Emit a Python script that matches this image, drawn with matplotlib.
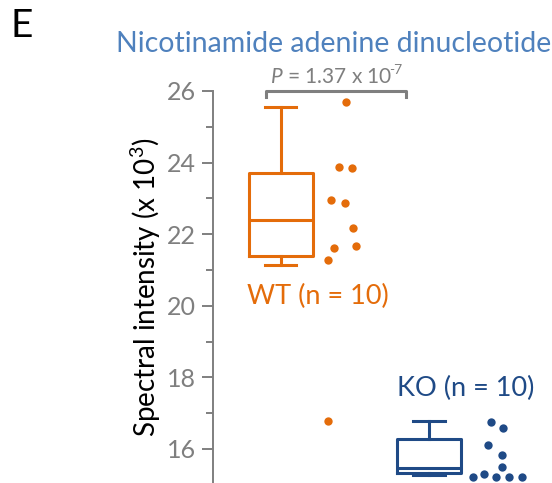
import numpy as np
import matplotlib.pyplot as plt

plt.rcParams['font.family'] = ['Lato', 'DejaVu Sans']
plt.rcParams['mathtext.fontset'] = 'custom'
plt.rcParams['mathtext.rm'] = 'Lato'
plt.rcParams['mathtext.it'] = 'Lato:italic'

groups = ['WT', 'KO']
group_labels = ['WT (n = 10)', 'KO (n = 10)']

# box summaries (x 10^3)
whislo = [21.14, 15.26]
q1 = [21.39, 15.34]
med = [22.40, 15.48]
q3 = [23.70, 16.28]
whishi = [25.56, 16.78]

# individual samples (x 10^3)
wt_values = [25.70, 23.87, 23.84, 22.96, 22.88, 22.18, 21.61, 21.67, 21.28, 16.78]
ko_values = [16.75, 16.59, 16.10, 15.84, 15.51, 15.23, 15.30, 15.23, 15.23, 15.23]

# horizontal spread of the dots next to each box
wt_spread = [0.44, 0.39, 0.48, 0.34, 0.43, 0.49, 0.36, 0.51, 0.32, 0.32]
ko_spread = [0.42, 0.50, 0.40, 0.49, 0.49, 0.30, 0.37, 0.45, 0.54, 0.63]

y_ticks = [16, 18, 20, 22, 24, 26]
p_text = r'$\it{P}$ = 1.37 x 10'
p_exp = '-7'

orange = '#E46C0A'
navy = '#1F4A86'
grey = '#7F7F7F'

fig = plt.figure(figsize=(5.52, 4.83), dpi=100)
ax = fig.add_axes([213 / 552, 0, 339 / 552, 392 / 483])

stats = []
for i in range(2):
    stats.append(dict(whislo=whislo[i], q1=q1[i], med=med[i], q3=q3[i],
                      whishi=whishi[i], fliers=[]))

colors = [orange, navy]
for i in range(2):
    c = colors[i]
    ax.bxp([stats[i]], positions=[i], widths=0.432, capwidths=0.21,
           showfliers=False,
           boxprops=dict(color=c, lw=2.2),
           medianprops=dict(color=c, lw=2.2),
           whiskerprops=dict(color=c, lw=2.2),
           capprops=dict(color=c, lw=2.2))

ax.scatter(np.array(wt_spread), wt_values, s=36, color=orange, lw=0, zorder=3)
ax.scatter(1 + np.array(ko_spread), ko_values, s=36, color=navy, lw=0, zorder=3)

ax.set_xlim(-0.459, 1.831)
ax.set_ylim(15.05, 26)
ax.set_yticks(y_ticks)
ax.set_yticks(np.arange(17, 26, 2), minor=True)
ax.tick_params(axis='y', which='major', length=8, width=1.4, color=grey,
               labelcolor=grey, labelsize=18, pad=4)
ax.tick_params(axis='y', which='minor', length=5, width=1.4, color=grey)
ax.set_xticks([])
for s in ['top', 'right', 'bottom']:
    ax.spines[s].set_visible(False)
ax.spines['left'].set_color(grey)
ax.spines['left'].set_linewidth(1.4)
ax.patch.set_alpha(0)

ax.set_ylabel('Spectral intensity (x 10$^3$)', fontsize=20, color='black')
ax.yaxis.set_label_coords(-0.148, 0.5)

# significance bracket
ax.plot([-0.101, -0.101, 0.845, 0.845], [25.82, 26.0, 26.0, 25.82],
        color=grey, lw=2.2, clip_on=False, solid_joinstyle='round')
pt = ax.text(0.341, 26.22, p_text, ha='center', va='baseline', fontsize=15,
             color=grey, clip_on=False)
ax.annotate(p_exp, xy=(1, 0.55), xycoords=pt, xytext=(-2.5, 0),
            textcoords='offset points', ha='left', va='bottom',
            fontsize=10, color=grey, annotation_clip=False)

ax.text(0.25, 20.25, group_labels[0], ha='center', va='center',
        fontsize=19.5, color=orange)
ax.text(1.25, 17.70, group_labels[1], ha='center', va='center',
        fontsize=19.5, color=navy)

fig.text(334 / 552, 1 - 52 / 483, 'Nicotinamide adenine dinucleotide',
         ha='center', va='baseline', fontsize=20.5, color='#4F81BD')
fig.text(10 / 552, 1 - 37 / 483, 'E', ha='left', va='baseline',
         fontsize=28, color='black')

fig.savefig('out.png', dpi=100)
